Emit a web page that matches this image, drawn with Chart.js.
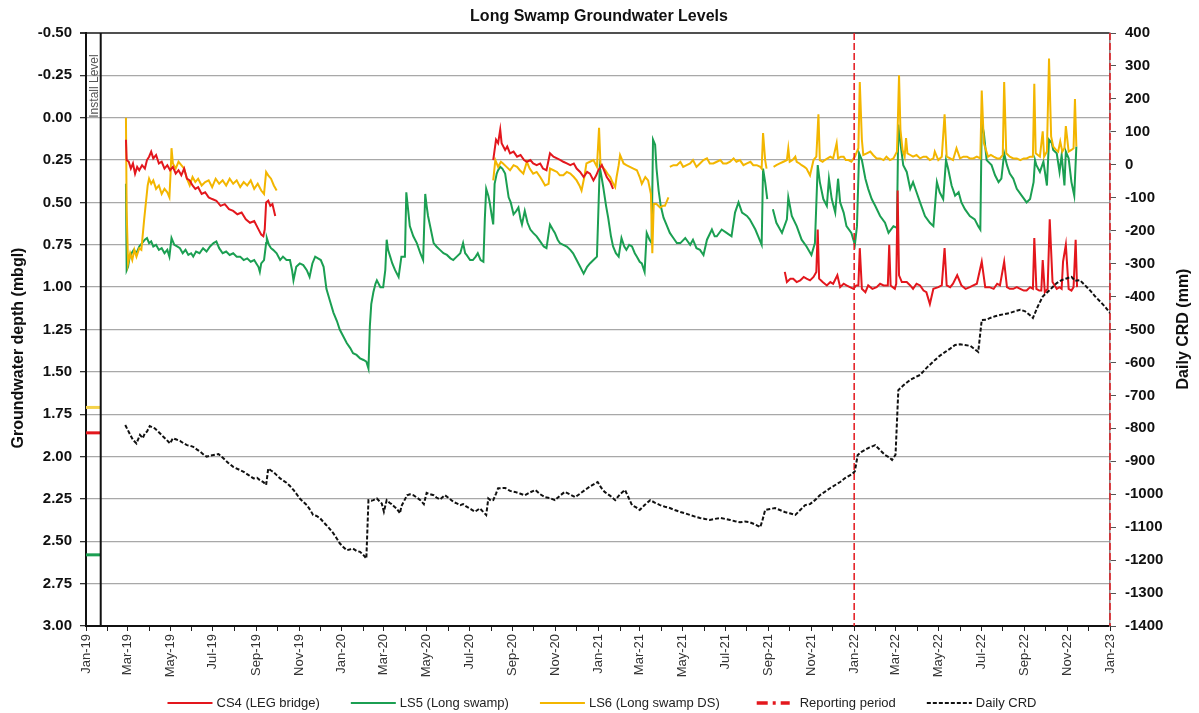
<!DOCTYPE html>
<html>
<head>
<meta charset="utf-8">
<title>Long Swamp Groundwater Levels</title>
<script src="https://cdn.jsdelivr.net/npm/chart.js@4.4.0/dist/chart.umd.min.js"></script>
<style>
  html, body { margin: 0; padding: 0; background: #fff; }
  canvas { display: block; }
</style>
</head>
<body>
<canvas id="gwChart" width="1199" height="713"></canvas>
<script>
// x values are days since 1 Jan 2019; null marks a gap in the logger record
const xTickLabels = ['Jan-19', 'Mar-19', 'May-19', 'Jul-19', 'Sep-19', 'Nov-19',
  'Jan-20', 'Mar-20', 'May-20', 'Jul-20', 'Sep-20', 'Nov-20',
  'Jan-21', 'Mar-21', 'May-21', 'Jul-21', 'Sep-21', 'Nov-21',
  'Jan-22', 'Mar-22', 'May-22', 'Jul-22', 'Sep-22', 'Nov-22', 'Jan-23'];

const seriesNames = ['CS4 (LEG bridge)', 'LS5 (Long swamp)', 'LS6 (Long swamp DS)', 'Reporting period', 'Daily CRD'];

// groundwater depth, mbgl
const cs4Depth = [
  [57,0.13],[58,0.25],[61,0.26],[64,0.30],[67,0.27],[70,0.33],[73,0.29],[76,0.31],[80,0.28],[84,0.30],[87,0.25],[90,0.23],
  [93,0.20],[96,0.24],[100,0.22],[104,0.27],[108,0.26],[112,0.30],[116,0.28],[120,0.31],[124,0.29],[128,0.33],[132,0.31],
  [136,0.34],[140,0.30],[144,0.36],[148,0.37],[152,0.40],[156,0.42],[160,0.41],[165,0.45],[170,0.44],[175,0.47],[180,0.48],
  [186,0.49],[192,0.52],[198,0.51],[204,0.54],[210,0.55],[216,0.57],[222,0.56],[228,0.60],[234,0.62],[240,0.61],[245,0.65],
  [250,0.69],[253,0.70],[255,0.66],[257,0.50],[260,0.49],[263,0.52],[266,0.51],[270,0.58],
  [271,null],
  [581,0.25],[585,0.13],[588,0.15],[591,0.07],[593,0.15],[598,0.19],[601,0.17],[605,0.21],[610,0.20],[615,0.23],[620,0.22],
  [625,0.25],[629,0.26],[634,0.25],[638,0.27],[643,0.28],[648,0.27],[652,0.30],[657,0.31],[662,0.21],[667,0.23],[672,0.24],
  [677,0.25],[681,0.26],[686,0.27],[691,0.28],[696,0.27],[700,0.30],[705,0.32],[710,0.35],[715,0.32],[719,0.33],[724,0.37],
  [728,0.34],[731,0.31],[736,0.28],[740,0.32],[743,0.35],[748,0.38],[752,0.42],
  [753,null],
  [997,0.91],[1000,0.97],[1005,0.95],[1009,0.95],[1014,0.97],[1019,0.96],[1024,0.94],[1028,0.95],[1033,0.96],[1038,0.94],
  [1042,0.91],[1044,0.66],[1046,0.95],[1051,0.97],[1057,0.99],[1062,0.97],[1066,0.98],[1072,0.93],[1076,1.00],[1081,0.98],
  [1085,0.99],[1090,1.00],[1095,1.01],[1099,0.99],[1102,0.99],[1104,0.77],[1107,1.01],[1112,1.03],[1116,0.99],[1122,1.01],
  [1128,1.00],[1133,0.98],[1138,0.99],[1144,0.99],[1146,0.75],[1148,0.99],[1154,1.01],[1156,0.98],[1158,0.43],[1160,0.93],
  [1164,0.97],[1171,0.97],[1176,0.99],[1180,1.01],[1185,0.98],[1190,0.99],[1195,1.02],[1199,1.03],[1204,1.10],[1209,1.01],
  [1216,1.00],[1221,0.99],[1225,0.77],[1228,0.99],[1233,1.00],[1237,0.98],[1243,0.93],[1249,0.99],[1255,1.01],[1261,1.00],
  [1266,0.99],[1271,0.98],[1278,0.85],[1283,1.00],[1289,1.00],[1295,1.01],[1300,0.98],[1304,0.99],[1310,0.85],[1314,1.00],
  [1318,1.01],[1323,1.01],[1328,1.00],[1333,1.01],[1338,1.02],[1342,1.02],[1347,1.00],[1351,1.01],[1353,0.71],[1356,1.01],
  [1360,1.02],[1363,1.02],[1365,0.84],[1368,1.03],[1372,1.01],[1375,0.60],[1379,0.97],[1385,1.01],[1389,1.00],[1392,1.01],
  [1394,0.85],[1398,0.75],[1402,1.01],[1406,1.02],[1409,1.00],[1412,0.72],[1414,1.00]
];

const ls5Depth = [
  [57,0.39],[58,0.90],[60,0.88],[62,0.83],[65,0.80],[68,0.78],[72,0.80],[76,0.76],[80,0.74],[84,0.72],[87,0.71],[90,0.74],
  [93,0.73],[96,0.76],[100,0.75],[104,0.78],[108,0.77],[112,0.80],[116,0.78],[119,0.82],[122,0.71],[126,0.75],[130,0.76],
  [134,0.77],[138,0.80],[142,0.78],[146,0.81],[150,0.80],[153,0.82],[157,0.79],[162,0.80],[167,0.77],[172,0.79],[177,0.76],
  [182,0.74],[186,0.73],[190,0.77],[195,0.80],[200,0.79],[205,0.81],[210,0.80],[215,0.82],[220,0.82],[225,0.84],[230,0.83],
  [235,0.85],[240,0.84],[243,0.86],[246,0.88],[248,0.91],[250,0.86],[254,0.84],[257,0.74],[258,0.71],[261,0.75],[264,0.77],
  [267,0.78],[272,0.80],[277,0.84],[281,0.82],[286,0.84],[291,0.84],[294,0.90],[296,0.96],[300,0.88],[305,0.86],[310,0.87],
  [315,0.90],[319,0.94],[323,0.86],[327,0.82],[331,0.83],[335,0.84],[339,0.88],[343,1.01],[348,1.08],[353,1.15],[358,1.20],
  [362,1.25],[367,1.29],[372,1.33],[377,1.36],[381,1.39],[386,1.40],[391,1.42],[396,1.43],[400,1.44],[403,1.48],[405,1.23],
  [407,1.10],[410,1.03],[413,0.98],[415,0.96],[420,1.00],[424,1.00],[427,0.90],[429,0.72],[431,0.78],[434,0.82],[437,0.86],
  [441,0.90],[446,0.94],[450,0.82],[455,0.82],[457,0.44],[460,0.56],[462,0.64],[467,0.70],[472,0.74],[477,0.80],[481,0.84],
  [484,0.45],[486,0.52],[488,0.58],[492,0.66],[496,0.74],[500,0.76],[505,0.78],[510,0.80],[515,0.81],[520,0.83],[524,0.84],
  [529,0.82],[534,0.80],[538,0.74],[541,0.80],[543,0.81],[548,0.84],[552,0.84],[556,0.82],[559,0.80],[563,0.84],[567,0.85],
  [569,0.60],[571,0.42],[574,0.46],[576,0.50],[579,0.58],[581,0.63],[583,0.39],[586,0.33],[588,0.31],[591,0.29],[594,0.30],
  [598,0.33],[603,0.47],[606,0.50],[610,0.57],[614,0.55],[617,0.53],[620,0.60],[622,0.63],[626,0.55],[630,0.62],[634,0.66],
  [638,0.68],[643,0.70],[648,0.73],[653,0.76],[657,0.77],[662,0.63],[666,0.66],[669,0.68],[673,0.72],[676,0.74],[681,0.75],
  [686,0.76],[691,0.78],[695,0.80],[700,0.84],[705,0.88],[710,0.92],[715,0.88],[719,0.86],[724,0.84],[729,0.82],[733,0.29],
  [736,0.36],[738,0.41],[742,0.52],[745,0.59],[749,0.70],[752,0.76],[756,0.80],[760,0.82],[764,0.71],[768,0.76],[771,0.78],
  [775,0.75],[779,0.76],[783,0.80],[786,0.82],[790,0.85],[793,0.86],[797,0.91],[800,0.68],[804,0.72],[807,0.74],[809,0.13],
  [812,0.16],[814,0.30],[817,0.43],[820,0.52],[824,0.59],[828,0.63],[833,0.68],[838,0.71],[843,0.74],[848,0.74],[855,0.71],
  [862,0.75],[866,0.72],[871,0.77],[876,0.78],[881,0.81],[886,0.72],[893,0.66],[897,0.70],[900,0.70],[907,0.66],[914,0.68],
  [921,0.70],[926,0.56],[931,0.50],[936,0.56],[943,0.58],[947,0.60],[955,0.66],[962,0.73],[964,0.75],[966,0.30],[969,0.38],
  [972,0.48],
  [975,null],
  [980,0.54],[985,0.62],[993,0.68],[1000,0.60],[1002,0.47],[1007,0.58],[1014,0.64],[1021,0.72],[1028,0.76],[1035,0.81],
  [1040,0.74],[1044,0.28],[1047,0.38],[1052,0.48],[1057,0.52],[1060,0.36],[1064,0.48],[1069,0.56],[1073,0.36],[1076,0.50],
  [1081,0.56],[1085,0.64],[1092,0.68],[1097,0.75],[1100,0.64],[1103,0.21],[1107,0.25],[1112,0.36],[1116,0.42],[1121,0.48],
  [1126,0.52],[1133,0.58],[1140,0.62],[1145,0.68],[1152,0.64],[1157,0.65],[1159,0.04],[1162,0.15],[1166,0.28],[1171,0.32],
  [1176,0.42],[1180,0.38],[1185,0.44],[1190,0.50],[1197,0.58],[1204,0.62],[1209,0.64],[1214,0.38],[1218,0.44],[1223,0.48],
  [1227,0.25],[1230,0.30],[1235,0.40],[1240,0.46],[1245,0.44],[1249,0.50],[1254,0.54],[1261,0.58],[1268,0.60],[1273,0.64],
  [1276,0.66],[1278,0.03],[1281,0.09],[1285,0.25],[1292,0.28],[1297,0.34],[1302,0.38],[1306,0.36],[1310,0.21],[1314,0.28],
  [1318,0.33],[1323,0.36],[1328,0.42],[1335,0.46],[1342,0.50],[1347,0.48],[1352,0.38],[1354,0.25],[1356,0.28],[1361,0.32],
  [1366,0.26],[1371,0.40],[1374,0.13],[1378,0.15],[1380,0.19],[1385,0.21],[1389,0.32],[1392,0.22],[1396,0.40],[1398,0.20],
  [1402,0.24],[1406,0.38],[1410,0.46],[1413,0.17]
];

const ls6Depth = [
  [57,0.00],[58,0.55],[60,0.86],[63,0.80],[66,0.84],[69,0.78],[72,0.82],[76,0.77],[79,0.78],[83,0.60],[88,0.40],[90,0.36],
  [93,0.39],[96,0.37],[100,0.42],[104,0.40],[108,0.45],[112,0.42],[116,0.44],[119,0.47],[121,0.30],[122,0.18],[124,0.27],
  [128,0.30],[132,0.26],[136,0.28],[140,0.30],[144,0.36],[148,0.40],[152,0.35],[156,0.38],[160,0.36],[165,0.40],[170,0.38],
  [175,0.37],[180,0.41],[185,0.36],[190,0.39],[195,0.37],[200,0.40],[205,0.36],[210,0.39],[215,0.37],[220,0.41],[225,0.38],
  [230,0.40],[235,0.37],[240,0.42],[245,0.39],[250,0.43],[254,0.45],[257,0.32],[260,0.34],[264,0.36],[268,0.40],[272,0.43],
  [273,null],
  [581,0.37],[584,0.25],[588,0.29],[592,0.26],[595,0.27],[600,0.29],[605,0.31],[610,0.28],[615,0.29],[619,0.31],[624,0.33],
  [629,0.26],[633,0.30],[638,0.33],[643,0.32],[648,0.35],[651,0.37],[655,0.40],[660,0.39],[662,0.30],[667,0.31],[672,0.32],
  [676,0.34],[681,0.34],[686,0.32],[691,0.33],[696,0.35],[700,0.37],[704,0.40],[707,0.43],[711,0.35],[714,0.27],[719,0.26],
  [724,0.25],[729,0.29],[732,0.06],[734,0.27],[737,0.29],[741,0.31],[744,0.33],[748,0.35],[751,0.38],[755,0.41],[757,0.35],
  [760,0.28],[762,0.22],[767,0.27],[771,0.28],[776,0.29],[781,0.30],[786,0.31],[790,0.35],[793,0.39],[798,0.35],[802,0.37],
  [806,0.45],[808,0.80],[810,0.51],[814,0.51],[819,0.53],[823,0.52],[826,0.52],[831,0.47],
  [832,null],
  [833,0.29],[838,0.28],[843,0.28],[848,0.26],[852,0.29],[857,0.28],[862,0.27],[866,0.25],[871,0.29],[876,0.27],[881,0.25],
  [886,0.24],[890,0.27],[895,0.27],[900,0.26],[905,0.25],[909,0.27],[914,0.27],[919,0.26],[924,0.24],[928,0.26],[933,0.25],
  [938,0.28],[943,0.27],[948,0.26],[952,0.28],[957,0.28],[962,0.29],[964,0.30],[966,0.09],[969,0.25],[971,0.30],
  [975,null],
  [981,0.29],[985,0.28],[990,0.27],[995,0.26],[1000,0.25],[1002,0.18],[1004,0.26],[1008,0.25],[1012,0.23],[1014,0.26],
  [1018,0.27],[1021,0.28],[1025,0.29],[1028,0.30],[1033,0.34],[1038,0.25],[1042,0.23],[1045,-0.02],[1047,0.25],[1051,0.26],
  [1054,0.25],[1058,0.24],[1062,0.23],[1066,0.24],[1071,0.15],[1073,0.24],[1077,0.23],[1081,0.23],[1084,0.25],[1088,0.25],
  [1092,0.26],[1097,0.23],[1102,0.18],[1104,-0.21],[1107,0.13],[1109,0.22],[1114,0.21],[1119,0.20],[1123,0.22],[1128,0.24],
  [1133,0.24],[1138,0.25],[1142,0.23],[1147,0.25],[1152,0.24],[1157,0.20],[1158,0.07],[1160,-0.25],[1162,0.07],[1165,0.19],
  [1168,0.23],[1170,0.12],[1172,0.21],[1176,0.22],[1180,0.23],[1185,0.22],[1190,0.24],[1195,0.23],[1199,0.23],[1204,0.25],
  [1209,0.24],[1211,0.20],[1216,0.25],[1221,0.23],[1225,-0.02],[1228,0.23],[1233,0.24],[1237,0.25],[1242,0.18],[1247,0.24],
  [1252,0.23],[1257,0.23],[1261,0.24],[1266,0.24],[1271,0.23],[1276,0.24],[1278,-0.16],[1281,0.15],[1287,0.23],[1291,0.22],
  [1295,0.23],[1300,0.24],[1304,0.24],[1308,0.22],[1310,-0.21],[1313,0.21],[1318,0.23],[1323,0.24],[1328,0.24],[1333,0.25],
  [1338,0.24],[1342,0.24],[1347,0.23],[1351,0.23],[1353,-0.20],[1355,0.21],[1361,0.23],[1365,0.08],[1367,0.23],[1371,0.20],
  [1374,-0.35],[1377,0.11],[1380,0.17],[1384,0.19],[1387,0.20],[1390,0.14],[1393,0.20],[1396,0.18],[1398,0.05],[1402,0.20],
  [1406,0.19],[1409,0.18],[1411,-0.11],[1413,0.17]
];

// cumulative rainfall departure, mm (right axis)
const dailyCrd = [
  [56,-790],[62,-815],[67,-835],[72,-846],[77,-820],[81,-830],[84,-815],[87,-810],[91,-793],[98,-800],[104,-812],[110,-825],
  [115,-835],[120,-846],[124,-830],[129,-834],[134,-838],[139,-845],[144,-851],[149,-853],[153,-856],[158,-864],[163,-871],
  [168,-880],[172,-886],[177,-883],[182,-881],[189,-878],[196,-891],[203,-905],[210,-917],[218,-925],[225,-932],[232,-942],
  [239,-952],[244,-950],[248,-957],[253,-963],[257,-972],[260,-922],[264,-928],[267,-932],[272,-942],[277,-952],[281,-958],
  [286,-965],[291,-975],[296,-987],[300,-998],[305,-1013],[310,-1023],[315,-1033],[320,-1048],[324,-1063],[329,-1066],
  [334,-1073],[339,-1085],[343,-1094],[348,-1106],[353,-1119],[358,-1135],[362,-1149],[367,-1160],[372,-1170],[376,-1168],
  [381,-1165],[386,-1172],[391,-1175],[396,-1185],[400,-1195],[403,-1018],[407,-1020],[410,-1018],[415,-1013],[419,-1022],
  [422,-1028],[425,-1053],[429,-1018],[433,-1026],[436,-1030],[440,-1038],[443,-1043],[448,-1058],[450,-1036],[454,-1020],
  [458,-1003],[462,-1000],[467,-1003],[472,-1010],[477,-1018],[482,-1030],[486,-996],[491,-1000],[496,-1003],[500,-1010],
  [505,-1016],[512,-1003],[518,-1012],[524,-1023],[529,-1028],[534,-1033],[538,-1030],[543,-1038],[549,-1045],[555,-1053],
  [562,-1043],[566,-1052],[571,-1063],[574,-1013],[578,-1020],[581,-1018],[585,-998],[588,-982],[598,-981],[605,-990],
  [612,-993],[619,-998],[626,-1003],[633,-995],[641,-987],[648,-1000],[655,-1009],[662,-1012],[669,-1018],[676,-1005],
  [683,-993],[690,-1000],[698,-1009],[705,-998],[712,-987],[720,-975],[730,-963],[735,-980],[740,-993],[748,-1005],
  [755,-1018],[762,-1000],[769,-987],[774,-1010],[779,-1033],[785,-1040],[790,-1048],[797,-1033],[805,-1018],[812,-1026],
  [819,-1033],[826,-1038],[833,-1042],[840,-1048],[848,-1054],[855,-1058],[862,-1063],[869,-1068],[876,-1072],[883,-1075],
  [890,-1078],[897,-1075],[905,-1072],[912,-1075],[919,-1078],[926,-1082],[933,-1085],[940,-1083],[947,-1085],[955,-1092],
  [962,-1100],[965,-1080],[969,-1048],[976,-1045],[983,-1042],[990,-1048],[997,-1054],[1004,-1058],[1012,-1063],[1019,-1048],
  [1026,-1033],[1033,-1030],[1040,-1018],[1047,-1003],[1054,-993],[1062,-981],[1069,-972],[1076,-963],[1083,-951],
  [1088,-945],[1093,-939],[1097,-930],[1101,-881],[1106,-872],[1111,-866],[1118,-858],[1126,-851],[1133,-866],[1140,-881],
  [1146,-888],[1150,-896],[1155,-880],[1159,-684],[1167,-668],[1176,-653],[1183,-645],[1190,-638],[1200,-615],[1211,-593],
  [1218,-580],[1226,-568],[1233,-558],[1240,-547],[1247,-545],[1254,-547],[1262,-550],[1268,-560],[1273,-568],[1278,-471],
  [1285,-470],[1290,-465],[1297,-460],[1304,-456],[1311,-453],[1318,-450],[1325,-445],[1333,-440],[1340,-445],[1346,-455],
  [1351,-465],[1358,-430],[1365,-400],[1375,-380],[1385,-359],[1392,-350],[1399,-345],[1406,-340],[1411,-352],[1418,-350],
  [1425,-365],[1432,-380],[1440,-400],[1447,-415],[1454,-431],[1461,-450]
];

const reportingPeriod = [1096, 1461];   // 1 Jan 2022 and 1 Jan 2023
const installDay = 21;
const installDepth = { cs4: 1.86, ls5: 2.58, ls6: 1.71 };

const FONT = '"Liberation Sans", Arial, sans-serif';
Chart.defaults.font.family = FONT;

const RED = '#e3171d';
const GREEN = '#1b9f52';
const GOLD = '#f3b600';

function toPoints(rows) {
  return rows.map(r => ({ x: r[0], y: r[1] }));
}

function vertical(day) {
  return [{ x: day, y: -0.5 }, { x: day, y: 3.0 }];
}

function installMark(depth) {
  return [{ x: 0, y: depth }, { x: installDay, y: depth }];
}

// month starts used for the x tick marks; every second one is labelled
const monthTicks = [];
for (let m = 0; m <= 48; m++) {
  monthTicks.push(Math.round((Date.UTC(2019, m, 1) - Date.UTC(2019, 0, 1)) / 86400000));
}

function lineSet(label, rows, color, extra) {
  return Object.assign({
    label: label,
    data: toPoints(rows),
    borderColor: color,
    backgroundColor: color,
    borderWidth: 2,
    pointRadius: 0,
    tension: 0,
    spanGaps: false,
    yAxisID: 'y',
    inLegend: true
  }, extra || {});
}

const datasets = [
  lineSet(seriesNames[4], dailyCrd, '#111', { yAxisID: 'y2', borderDash: [4, 2], order: 0 }),
  lineSet(seriesNames[0], cs4Depth, RED, { order: 2 }),
  lineSet(seriesNames[1], ls5Depth, GREEN, { order: 4 }),
  lineSet(seriesNames[2], ls6Depth, GOLD, { order: 3 }),
  { label: seriesNames[3], data: vertical(reportingPeriod[0]), borderColor: RED, borderWidth: 1.5,
    borderDash: [7, 3], pointRadius: 0, clip: false, order: 1, inLegend: true,
    legendWidth: 3.5, legendDash: [11, 5, 3, 5, 11, 40], legendInset: 6 },
  { label: 'reporting end', data: vertical(reportingPeriod[1]), borderColor: RED, borderWidth: 1.5,
    borderDash: [7, 3], pointRadius: 0, clip: false, order: 1 },
  { label: 'install line', data: vertical(installDay), borderColor: '#111', borderWidth: 2,
    pointRadius: 0, order: 5 },
  { label: 'LS6 install', data: installMark(installDepth.ls6), borderColor: '#f5d24a', borderWidth: 3, pointRadius: 0, clip: false, order: 5 },
  { label: 'CS4 install', data: installMark(installDepth.cs4), borderColor: RED, borderWidth: 3, pointRadius: 0, clip: false, order: 5 },
  { label: 'LS5 install', data: installMark(installDepth.ls5), borderColor: GREEN, borderWidth: 3, pointRadius: 0, clip: false, order: 5 }
];

// legend order follows the series name list
const legendOrder = seriesNames;

const chartText = {
  id: 'chartText',
  afterDraw(chart) {
    const ctx = chart.ctx;
    const sx = chart.scales.x, sy = chart.scales.y;
    ctx.save();

    ctx.fillStyle = '#111';
    ctx.textAlign = 'center';
    ctx.textBaseline = 'middle';
    ctx.font = 'bold 16px ' + FONT;
    ctx.fillText('Long Swamp Groundwater Levels', 599, 17);

    // axis titles, both read bottom to top
    ctx.save();
    ctx.translate(19, 348);
    ctx.rotate(-Math.PI / 2);
    ctx.fillText('Groundwater depth (mbgl)', 0, 0);
    ctx.restore();
    ctx.save();
    ctx.translate(1184, 329);
    ctx.rotate(-Math.PI / 2);
    ctx.fillText('Daily CRD (mm)', 0, 0);
    ctx.restore();

    // caption beside the install line
    ctx.save();
    ctx.font = '12px ' + FONT;
    ctx.fillStyle = '#555';
    ctx.textAlign = 'left';
    ctx.translate(sx.getPixelForValue(installDay) - 6, sy.getPixelForValue(0));
    ctx.rotate(-Math.PI / 2);
    ctx.fillText('Install Level', 0, 0);
    ctx.restore();

    // legend row
    const items = legendOrder.map(n => chart.data.datasets.find(d => d.label === n && d.inLegend));
    ctx.font = '13px ' + FONT;
    const sample = 45, gap = 4, spacing = 31;
    const widths = items.map(d => sample + gap + ctx.measureText(d.label).width);
    const total = widths.reduce((a, b) => a + b, 0) + spacing * (items.length - 1);
    let x = 602 - total / 2;
    const y = 703;
    items.forEach((d, i) => {
      const inset = d.legendInset || 0;
      ctx.strokeStyle = d.borderColor;
      ctx.lineWidth = d.legendWidth || d.borderWidth;
      ctx.setLineDash(d.legendDash || d.borderDash || []);
      ctx.beginPath();
      ctx.moveTo(x + inset, y);
      ctx.lineTo(x + sample - inset, y);
      ctx.stroke();
      ctx.setLineDash([]);
      ctx.fillStyle = '#222';
      ctx.textAlign = 'left';
      ctx.fillText(d.label, x + sample + gap, y);
      x += widths[i] + spacing;
    });
    ctx.restore();
  }
};

new Chart(document.getElementById('gwChart'), {
  type: 'line',
  data: { datasets: datasets },
  options: {
    responsive: false,
    animation: false,
    events: [],
    layout: { padding: { top: 33, left: 0, right: 0, bottom: 0 } },
    plugins: { legend: { display: false }, tooltip: { enabled: false } },
    scales: {
      x: {
        type: 'linear',
        min: 0,
        max: 1461,
        afterBuildTicks: axis => { axis.ticks = monthTicks.map(v => ({ value: v })); },
        afterFit: axis => { axis.height = 87; },
        ticks: {
          autoSkip: false,
          minRotation: 90,
          maxRotation: 90,
          padding: 3,
          color: '#333',
          font: { size: 13 },
          callback: (v, i) => (i % 2 === 0 ? xTickLabels[i / 2] : '')
        },
        grid: { drawOnChartArea: false, tickLength: 5, tickColor: '#222', tickWidth: 1 },
        border: { color: '#111', width: 2 }
      },
      y: {
        position: 'left',
        reverse: true,
        min: -0.5,
        max: 3.0,
        afterFit: axis => { axis.width = 86; },
        ticks: {
          stepSize: 0.25,
          padding: 8,
          color: '#111',
          font: { size: 15, weight: 'bold' },
          callback: v => v.toFixed(2)
        },
        grid: {
          color: c => (c.tick && c.tick.value === -0.5 ? '#505050' : '#a8a8a8'),
          lineWidth: c => (c.tick && c.tick.value === -0.5 ? 2 : 1.3),
          tickLength: 6,
          tickColor: '#333'
        },
        border: { color: '#111', width: 2 }
      },
      y2: {
        position: 'right',
        min: -1400,
        max: 400,
        afterFit: axis => { axis.width = 89; },
        ticks: {
          stepSize: 100,
          padding: 9,
          color: '#111',
          font: { size: 15, weight: 'bold' },
          callback: v => String(v)
        },
        grid: { drawOnChartArea: false, tickLength: 6, tickColor: '#555' },
        border: { color: '#888', width: 1.5 }
      }
    }
  },
  plugins: [chartText]
});
</script>
</body>
</html>
